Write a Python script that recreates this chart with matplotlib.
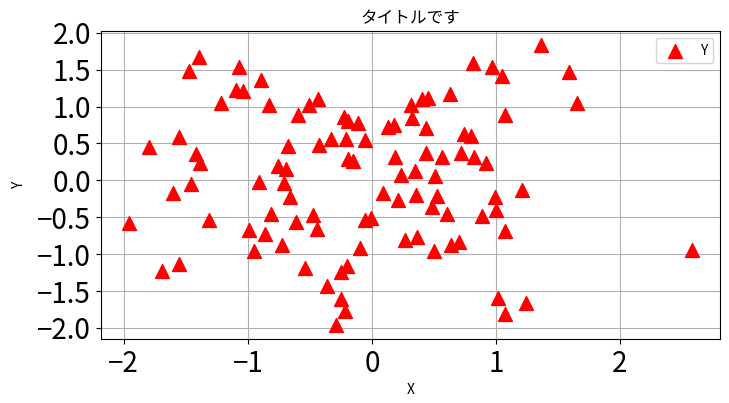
import matplotlib
matplotlib.use("Agg")
import matplotlib.pyplot as plt
from matplotlib.ticker import MultipleLocator

plt.rcParams['font.family'] = ['Noto Sans CJK JP', 'DejaVu Sans']
plt.rcParams['axes.unicode_minus'] = True

# point coordinates
x = [-1.395, -1.476, -1.073, -0.895, -1.099, -1.040, -1.218, -0.831, -0.597, -0.508,
     -0.432, -1.556, -1.798, -1.422, -1.389, -0.677, -0.755, -0.694, -1.456, -0.911,
     -0.710, -1.605, -0.661, -1.960, -1.314, -0.817, -0.615, -0.476, -0.446, -0.992,
     -0.863, -0.952, -0.728, -0.543, -1.556, -1.694, 0.089, 0.210, 0.355, 0.524,
     0.487, 0.605, -0.056, -0.005, -0.097, 0.266, 0.363, 0.500, 0.637, 0.705,
     0.887, 0.992, 1.000, 1.070, 1.210, -0.198, -0.247, -0.360, -0.247, -0.218,
     -0.290, 1.016, 1.073, 1.242, 1.363, 1.052, 1.589, 1.653, 1.076, 2.581,
     0.815, 0.965, 0.629, 0.406, 0.455, 0.315, 0.320, -0.223, -0.194, -0.113,
     0.132, 0.177, 0.435, 0.742, 0.796, -0.427, -0.331, -0.206, -0.056, -0.190,
     -0.153, 0.185, 0.435, 0.565, 0.718, 0.826, 0.919, 0.231, 0.347, 0.508]
y = [1.672, 1.482, 1.537, 1.360, 1.220, 1.211, 1.049, 1.016, 0.881, 1.022,
     1.098, 0.592, 0.452, 0.358, 0.230, 0.466, 0.195, 0.159, -0.045, -0.018,
     -0.035, -0.176, -0.221, -0.583, -0.537, -0.456, -0.560, -0.469, -0.659, -0.672,
     -0.726, -0.957, -0.876, -1.192, -1.133, -1.228, -0.171, -0.266, -0.198, -0.217,
     -0.356, -0.456, -0.537, -0.515, -0.912, -0.804, -0.767, -0.957, -0.876, -0.835,
     -0.483, -0.221, -0.401, -0.686, -0.130, -1.165, -1.237, -1.431, -1.607, -1.770,
     -1.959, -1.589, -1.815, -1.667, 1.829, 1.409, 1.469, 1.049, 0.886, -0.943,
     1.591, 1.541, 1.175, 1.107, 1.117, 1.026, 0.850, 0.863, 0.805, 0.782,
     0.728, 0.751, 0.710, 0.628, 0.596, 0.480, 0.561, 0.561, 0.547, 0.290,
     0.263, 0.317, 0.371, 0.317, 0.375, 0.317, 0.235, 0.073, 0.127, 0.064]

fig, ax = plt.subplots(figsize=(7.29, 4.03), dpi=100)
fig.subplots_adjust(left=0.138, right=0.988, top=0.922, bottom=0.159)

ax.scatter(x, y, marker='^', c='red', s=100, label='Y', zorder=3)
ax.grid(True)
ax.set_axisbelow(True)
ax.yaxis.set_major_locator(MultipleLocator(0.5))
ax.tick_params(labelsize=20)
ax.set_title('タイトルです', fontsize=12)
ax.set_xlabel('X', fontsize=10, labelpad=3)
ax.set_ylabel('Y', fontsize=10, labelpad=8)
ax.legend(loc='upper right', fontsize=10)

fig.savefig('out.png', dpi=100)
